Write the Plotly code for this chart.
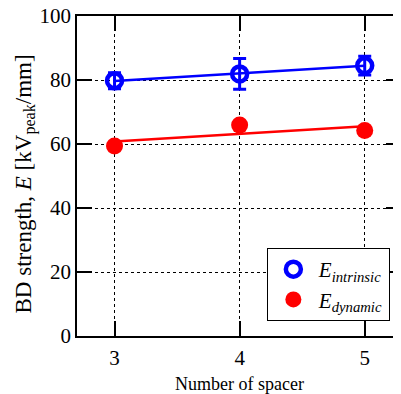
import numpy as np
import plotly.graph_objects as go

spacers = [3, 4, 5]
e_intrinsic = [79.8, 81.9, 84.5]
e_intrinsic_err = [2.5, 4.8, 2.9]
e_dynamic = [59.4, 65.9, 64.2]
x_ticks = [3, 4, 5]
y_ticks = [0, 20, 40, 60, 80, 100]
x_title = "Number of spacer"
y_title = "BD strength, <i>E</i> [kV<sub>peak</sub>/mm]"

fit_i = np.polyfit(spacers, e_intrinsic, 1)
fit_d = np.polyfit(spacers, e_dynamic, 1)
xs = np.array(spacers, dtype=float)

SERIF = "Liberation Serif, Times New Roman, serif"

fig = go.Figure()
fig.add_trace(go.Scatter(x=xs, y=np.polyval(fit_i, xs), mode="lines",
                         line=dict(color="#0000ff", width=2.5), showlegend=False))
fig.add_trace(go.Scatter(x=xs, y=np.polyval(fit_d, xs), mode="lines",
                         line=dict(color="#ff0000", width=2.5), showlegend=False))
fig.add_trace(go.Scatter(x=spacers, y=e_intrinsic, mode="markers",
                         name="<i>E<sub>intrinsic</sub></i>",
                         marker=dict(symbol="circle-open", size=15, color="#0000ff",
                                     line=dict(width=4.5, color="#0000ff")),
                         error_y=dict(type="data", array=e_intrinsic_err, color="#0000ff",
                                      thickness=3, width=6.5)))
fig.add_trace(go.Scatter(x=spacers, y=e_dynamic, mode="markers",
                         name="<i>E<sub>dynamic</sub></i>",
                         marker=dict(symbol="circle", size=17, color="#ff0000")))

axis_common = dict(showline=True, linecolor="black", linewidth=1.5, mirror="allticks",
                   ticks="inside", ticklen=15, tickwidth=1.5, tickcolor="black",
                   showgrid=True, gridcolor="black", gridwidth=1, griddash="dot",
                   zeroline=False, automargin=False, ticklabeloverflow="allow",
                   tickfont=dict(family=SERIF, size=21, color="black"))

fig.update_xaxes(range=[2.7, 5.29], tickvals=x_ticks, ticklabelstandoff=2, **axis_common)
fig.update_yaxes(range=[0, 100], tickvals=y_ticks, **axis_common)

fig.add_annotation(text=x_title, xref="paper", yref="paper", x=0.5, y=0,
                   xanchor="center", yanchor="top", yshift=-36, showarrow=False,
                   font=dict(family=SERIF, size=18, color="black"))
fig.add_annotation(text=y_title, xref="paper", yref="paper", x=0, y=0.5,
                   xanchor="left", yanchor="middle", xshift=-69, yshift=-8,
                   textangle=-90, showarrow=False,
                   font=dict(family=SERIF, size=23, color="black"))

fig.update_layout(width=401, height=394,
                  margin=dict(l=69, r=8, t=8, b=66),
                  paper_bgcolor="white", plot_bgcolor="white",
                  legend=dict(x=0.586, y=0.275, xanchor="left", yanchor="top",
                              bordercolor="black", borderwidth=1, bgcolor="white",
                              font=dict(family=SERIF, size=21, color="black"),
                              itemwidth=41, tracegroupgap=0))
fig.write_html("out.html")
